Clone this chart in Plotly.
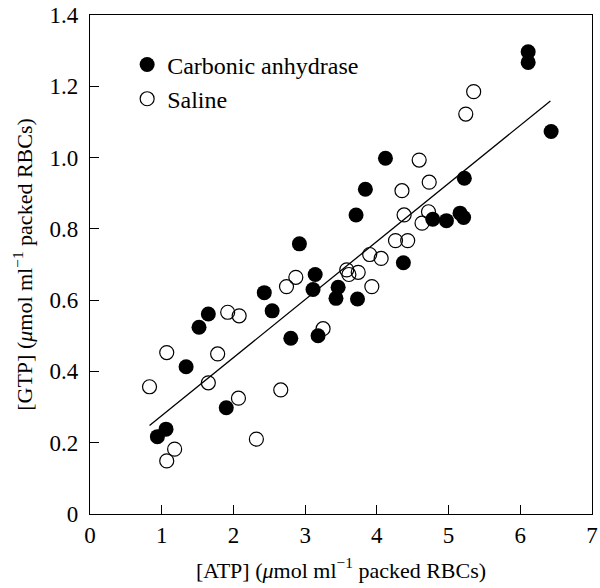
import plotly.graph_objects as go

# Carbonic anhydrase (filled circles)
ca_atp = [6.11, 6.11, 6.43, 4.12, 3.84, 5.22, 3.71, 4.78, 4.97, 5.16, 5.21, 4.37, 2.92, 3.14,
          3.11, 3.46, 3.43, 3.73, 2.43, 2.54, 1.65, 1.52, 2.80, 3.18, 1.34, 1.90, 1.06, 0.94]
ca_gtp = [1.297, 1.267, 1.073, 0.998, 0.911, 0.942, 0.839, 0.827, 0.823, 0.844, 0.832, 0.705, 0.758, 0.672,
          0.630, 0.636, 0.605, 0.603, 0.621, 0.570, 0.561, 0.524, 0.493, 0.500, 0.413, 0.298, 0.238, 0.217]

# Saline (open circles)
sal_atp = [5.35, 5.24, 4.59, 4.35, 4.73, 4.38, 4.72, 4.63, 4.26, 4.43, 3.90, 4.06, 3.93, 3.58, 3.61,
           3.74, 2.87, 2.74, 1.92, 2.08, 3.25, 1.07, 1.78, 0.83, 1.65, 2.66, 2.07, 2.32, 1.18, 1.07]
sal_gtp = [1.185, 1.122, 0.993, 0.907, 0.931, 0.839, 0.848, 0.816, 0.767, 0.767, 0.728, 0.717, 0.638, 0.685, 0.672,
           0.678, 0.664, 0.638, 0.566, 0.556, 0.520, 0.453, 0.449, 0.357, 0.368, 0.348, 0.325, 0.210, 0.182, 0.149]

# Regression line end points
fit_atp = [0.83, 6.42]
fit_gtp = [0.248, 1.159]

x_ticks = [0, 1, 2, 3, 4, 5, 6, 7]
x_ticktext = ["0", "1", "2", "3", "4", "5", "6", "7"]
y_ticks = [0, 0.2, 0.4, 0.6, 0.8, 1.0, 1.2, 1.4]
y_ticktext = ["0", "0.2", "0.4", "0.6", "0.8", "1.0", "1.2", "1.4"]

FONT = "Liberation Serif, Times New Roman, serif"

fig = go.Figure()
fig.add_trace(go.Scatter(
    x=fit_atp, y=fit_gtp, mode="lines", showlegend=False,
    line=dict(color="black", width=1.3), hoverinfo="skip"))
fig.add_trace(go.Scatter(
    x=sal_atp, y=sal_gtp, mode="markers", name="Saline",
    marker=dict(symbol="circle", size=14, color="rgba(255,255,255,0)",
                line=dict(color="black", width=1.2))))
fig.add_trace(go.Scatter(
    x=ca_atp, y=ca_gtp, mode="markers", name="Carbonic anhydrase",
    marker=dict(symbol="circle", size=15, color="black",
                line=dict(color="black", width=0))))

axis_common = dict(
    showgrid=False, zeroline=False, showline=True, linecolor="black", linewidth=1.3,
    mirror=True, ticks="inside", ticklen=9, tickwidth=1.2, tickcolor="black",
    automargin=False, ticklabeloverflow="allow",
    tickfont=dict(family=FONT, size=23, color="black"),
)

fig.update_layout(
    template="none",
    width=600, height=588,
    margin=dict(l=90, r=8, t=15, b=74),
    paper_bgcolor="white", plot_bgcolor="white",
    font=dict(family=FONT, size=22, color="black"),
    xaxis=dict(range=[0, 7], tickvals=x_ticks, ticktext=x_ticktext,
               ticklabelstandoff=0,
               title=dict(text="[ATP] (<i>μ</i>mol ml<sup>−1</sup> packed RBCs)",
                          font=dict(family=FONT, size=22), standoff=15),
               **axis_common),
    yaxis=dict(range=[0, 1.4], tickvals=y_ticks, ticktext=y_ticktext,
               ticklabelstandoff=6,
               title=dict(text="[GTP] (<i>μ</i>mol ml<sup>−1</sup> packed RBCs)",
                          font=dict(family=FONT, size=22), standoff=10),
               **axis_common),
    legend=dict(x=0.074, y=0.945, xanchor="left", yanchor="top",
                bgcolor="rgba(0,0,0,0)", borderwidth=0,
                font=dict(family=FONT, size=24, color="black"),
                traceorder="reversed", tracegroupgap=0),
)

# remove the default 8 px page margin so the figure fills the window exactly
fig.write_html("out.html", config={"displayModeBar": False},
               post_script="document.body.style.margin='0px';")
